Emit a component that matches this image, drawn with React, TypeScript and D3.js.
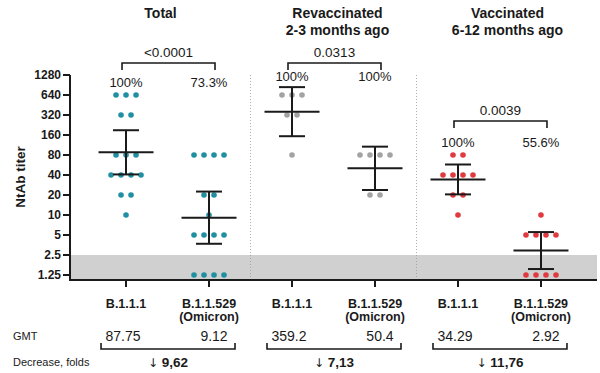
import React from 'react';
import * as d3 from 'd3';

// titers per group
const totalB111 = [640, 640, 640, 320, 320, 80, 80, 80, 40, 40, 40, 40, 20, 20, 10];
const totalOmicron = [80, 80, 80, 80, 20, 20, 10, 5, 5, 5, 5, 1.25, 1.25, 1.25, 1.25];
const revaccB111 = [640, 640, 640, 320, 320, 80];
const revaccOmicron = [80, 80, 80, 80, 20, 20];
const vaccB111 = [80, 80, 40, 40, 40, 40, 20, 20, 10];
const vaccOmicron = [10, 5, 5, 5, 5, 1.25, 1.25, 1.25, 1.25];

const categories = ['t1', 't2', 'r1', 'r2', 'v1', 'v2'];
const seriesValues = [totalB111, totalOmicron, revaccB111, revaccOmicron, vaccB111, vaccOmicron];
const variantLabels = [['B.1.1.1'], ['B.1.1.529', '(Omicron)']];
const groupTitles = [['Total'], ['Revaccinated', '2-3 months ago'], ['Vaccinated', '6-12 months ago']];
const percents = ['100%', '73.3%', '100%', '100%', '100%', '55.6%'];
const pValues = ['<0.0001', '0.0313', '0.0039'];
const gmtLabels = ['87.75', '9.12', '359.2', '50.4', '34.29', '2.92'];
const folds = ['9,62', '7,13', '11,76'];
const yTicks = [1.25, 2.5, 5, 10, 20, 40, 80, 160, 320, 640, 1280];
const lodValue = 2.5;
const colors = ['#1f8fa1', '#1f8fa1', '#a3a3a3', '#a3a3a3', '#e0393f', '#e0393f'];
// two-sided 95% t critical values by degrees of freedom
const tCrit: Record<number, number> = { 5: 2.571, 8: 2.306, 14: 2.145 };

const W = 600, H = 373;
const font = '"Liberation Sans", Arial, sans-serif';
const ink = '#1a1a1a';

function stats(vals: number[]) {
  const logs = vals.map(v => Math.log2(v));
  const m = d3.mean(logs)!;
  const sd = d3.deviation(logs)!;
  const half = tCrit[vals.length - 1] * sd / Math.sqrt(vals.length);
  return { gmt: 2 ** m, lo: 2 ** (m - half), hi: 2 ** (m + half) };
}

export default function App() {
  const x = d3.scalePoint<string>().domain(categories).range([70, 597]).padding(0.675);
  const y = d3.scaleLog().base(2).domain([1.25 * 2 ** -0.25, 1280]).range([280, 75]);

  const cols = categories.map((c, i) => {
    const cx = x(c)!;
    const counts = d3.rollup(seriesValues[i], v => v.length, v => v);
    const dots: { x: number; y: number }[] = [];
    counts.forEach((k, v) => {
      for (let j = 0; j < k; j++) dots.push({ x: cx + (j - (k - 1) / 2) * 10, y: y(v) });
    });
    return { cx, dots, s: stats(seriesValues[i]) };
  });

  const pairs = [0, 1, 2].map(g => {
    const a = cols[g * 2], b = cols[g * 2 + 1];
    const topDot = d3.min([a, b].flatMap(c => c.dots.map(d => d.y)))!;
    const topCap = d3.min([a, b].map(c => y(c.s.hi)))!;
    return { a, b, labelY: Math.min(topDot - 13, topCap - 11) };
  });
  const bracketY = [63, 63, 121];
  const titleShift = [-7, 4, 8];

  return (
    <svg width={W} height={H} style={{ position: 'absolute', left: 0, top: 0, background: '#fff' }} fontFamily={font}>
      {/* limit of detection band */}
      <rect x={70} y={y(lodValue)} width={597 - 70} height={280 - y(lodValue)} fill="#d0d0d0" />
      {/* group separators */}
      {[1, 2].map(g => {
        const sx = (cols[g * 2 - 1].cx + cols[g * 2].cx) / 2;
        return <line key={g} x1={sx} x2={sx} y1={75} y2={280} stroke="#9a9a9a" strokeWidth={0.8} strokeDasharray="1,2" />;
      })}

      {/* y axis */}
      <line x1={70} x2={70} y1={y(1280)} y2={281} stroke={ink} strokeWidth={2} />
      {yTicks.map(t => (
        <g key={t}>
          <line x1={63} x2={70} y1={y(t)} y2={y(t)} stroke={ink} strokeWidth={2} />
          <text x={61} y={y(t)} dy="0.35em" textAnchor="end" fontSize={12} fontWeight="bold" fill={ink}>{t}</text>
        </g>
      ))}
      <text transform={`translate(25,${177}) rotate(-90)`} textAnchor="middle" fontSize={13.5} fontWeight="bold" fill={ink}>NtAb titer</text>

      {/* x axis */}
      <line x1={69} x2={597} y1={280} y2={280} stroke={ink} strokeWidth={2} />
      {cols.map((c, i) => (
        <g key={i}>
          <line x1={c.cx} x2={c.cx} y1={280} y2={287} stroke={ink} strokeWidth={2} />
          {variantLabels[i % 2].map((l, j) => (
            <text key={j} x={c.cx} y={307.5 + j * 13.5} textAnchor="middle" fontSize={12.5} fontWeight="bold" fill={ink}>{l}</text>
          ))}
        </g>
      ))}

      {/* dots and error bars */}
      {cols.map((c, i) => (
        <g key={i}>
          {c.dots.map((d, j) => <circle key={j} cx={d.x} cy={d.y} r={2.8} fill={colors[i]} />)}
          <line x1={c.cx} x2={c.cx} y1={y(c.s.lo)} y2={y(c.s.hi)} stroke={ink} strokeWidth={2} />
          <line x1={c.cx - 13} x2={c.cx + 13} y1={y(c.s.lo)} y2={y(c.s.lo)} stroke={ink} strokeWidth={2} />
          <line x1={c.cx - 13} x2={c.cx + 13} y1={y(c.s.hi)} y2={y(c.s.hi)} stroke={ink} strokeWidth={2} />
          <line x1={c.cx - 27.5} x2={c.cx + 27.5} y1={y(c.s.gmt)} y2={y(c.s.gmt)} stroke={ink} strokeWidth={2} />
        </g>
      ))}

      {/* titles, percentages, p-value brackets */}
      {pairs.map((p, g) => {
        const mid = (p.a.cx + p.b.cx) / 2;
        const by = bracketY[g];
        const x0 = p.a.cx - 4, x1 = p.b.cx + 6;
        return (
          <g key={g}>
            {groupTitles[g].map((t, j) => (
              <text key={j} x={mid + titleShift[g]} y={18 + j * 17} textAnchor="middle" fontSize={14} fontWeight="bold" fill={ink}>{t}</text>
            ))}
            <text x={p.a.cx} y={p.labelY} dy="0.35em" textAnchor="middle" fontSize={13} fill={ink}>{percents[g * 2]}</text>
            <text x={p.b.cx} y={p.labelY} dy="0.35em" textAnchor="middle" fontSize={13} fill={ink}>{percents[g * 2 + 1]}</text>
            <path d={`M${x0},${by + 7}V${by}H${x1}V${by + 7}`} fill="none" stroke={ink} strokeWidth={1.6} />
            <text x={(x0 + x1) / 2} y={by - 11} dy="0.35em" textAnchor="middle" fontSize={13.5} fill={ink}>{pValues[g]}</text>
          </g>
        );
      })}

      {/* GMT table */}
      <text x={13} y={340} fontSize={11} fill={ink}>GMT</text>
      <text x={13} y={366} fontSize={11} fill={ink}>Decrease, folds</text>
      {pairs.map((p, g) => {
        const x0 = p.a.cx - 25, x1 = p.b.cx + 26;
        return (
          <g key={g}>
            <text x={p.a.cx - 3} y={341} textAnchor="middle" fontSize={14} fill={ink}>{gmtLabels[g * 2]}</text>
            <text x={p.b.cx + 5} y={341} textAnchor="middle" fontSize={14} fill={ink}>{gmtLabels[g * 2 + 1]}</text>
            <path d={`M${x0},${343}V${349}H${x1}V${343}`} fill="none" stroke={ink} strokeWidth={1.6} />
            <text x={(x0 + x1) / 2} y={367} textAnchor="middle" fontSize={13.5} fill={ink}>
              <tspan fontFamily='"DejaVu Sans"' fontSize={12}>↓</tspan><tspan fontWeight="bold"> {folds[g]}</tspan>
            </text>
          </g>
        );
      })}
    </svg>
  );
}
